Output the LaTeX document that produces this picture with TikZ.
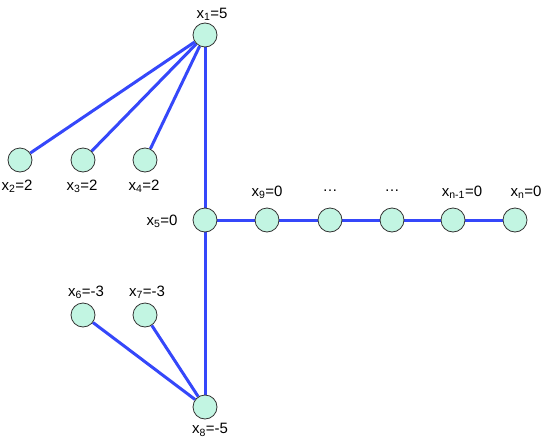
\documentclass[tikz,border=0pt]{standalone}
\usepackage{fontspec}
\setmainfont{Liberation Sans}
\usetikzlibrary{backgrounds}
\definecolor{mint}{HTML}{C2F5E2}
\definecolor{edgeblue}{HTML}{3547FA}
\tikzset{
  vert/.style={circle,draw=black!80,line width=0.8pt,fill=mint,minimum size=24pt,inner sep=0pt},
  edge/.style={draw=edgeblue,line width=3pt},
  lab/.style={font=\fontsize{15}{17}\selectfont,inner sep=0pt}
}
\newcommand{\xs}[2]{x\textsubscript{#1}=#2}
\begin{document}
\begin{tikzpicture}[x=1pt,y=-1pt]
\useasboundingbox (0,0) rectangle (545,439);
\node[vert] (v1) at (205,35) {};
\node[vert] (v2) at (20,160) {};
\node[vert] (v3) at (83,160) {};
\node[vert] (v4) at (145,160) {};
\node[vert] (v5) at (205,220) {};
\node[vert] (v9) at (267,220) {};
\node[vert] (va) at (330,220) {};
\node[vert] (vb) at (392,220) {};
\node[vert] (vn1) at (453,220) {};
\node[vert] (vn) at (515,220) {};
\node[vert] (v6) at (83,315) {};
\node[vert] (v7) at (145,315) {};
\node[vert] (v8) at (205,407) {};
\begin{scope}[on background layer]
\draw[edge] (v1) -- (v2);
\draw[edge] (v1) -- (v3);
\draw[edge] (v1) -- (v4);
\draw[edge] (v1) -- (v5);
\draw[edge] (v5) -- (v9) -- (va) -- (vb) -- (vn1) -- (vn);
\draw[edge] (v5) -- (v8);
\draw[edge] (v8) -- (v6);
\draw[edge] (v8) -- (v7);
\end{scope}
\node[lab] (l1) at (212,14) {\xs{1}{5}};
\node[lab] (l2) at (17,186) {\xs{2}{2}};
\node[lab] (l3) at (82,186) {\xs{3}{2}};
\node[lab] (l4) at (144,186) {\xs{4}{2}};
\node[lab] (l5) at (162,221) {\xs{5}{0}};
\node[lab] (l9) at (267,192) {\xs{9}{0}};
\node[lab] (la) at (330,191) {\dots};
\node[lab] (lb) at (392,191) {\dots};
\node[lab] (ln1) at (462,192) {x\textsubscript{n-1}=0};
\node[lab] (ln) at (526,192) {x\textsubscript{n}=0};
\node[lab] (l6) at (86,292) {\xs{6}{-3}};
\node[lab] (l7) at (147,292) {\xs{7}{-3}};
\node[lab] (l8) at (210,430) {\xs{8}{-5}};
\end{tikzpicture}
\end{document}
